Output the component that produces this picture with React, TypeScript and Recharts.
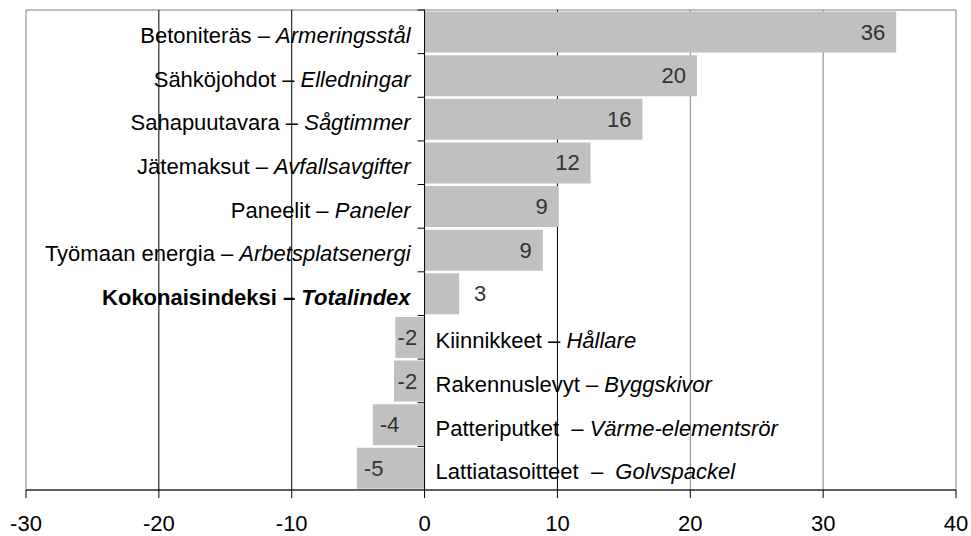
import { BarChart, Bar, XAxis, YAxis, ReferenceLine, ReferenceArea, LabelList } from 'recharts';

const finnishNames = [
  'Betoniteräs – ',
  'Sähköjohdot – ',
  'Sahapuutavara – ',
  'Jätemaksut – ',
  'Paneelit – ',
  'Työmaan energia – ',
  'Kokonaisindeksi – ',
  'Kiinnikkeet – ',
  'Rakennuslevyt – ',
  'Patteriputket  – ',
  'Lattiatasoitteet  –  ',
];

const swedishNames = [
  'Armeringsstål',
  'Elledningar',
  'Sågtimmer',
  'Avfallsavgifter',
  'Paneler',
  'Arbetsplatsenergi',
  'Totalindex',
  'Hållare',
  'Byggskivor',
  'Värme-elementsrör',
  'Golvspackel',
];

const changes = [35.5, 20.5, 16.4, 12.5, 10.1, 8.9, 2.6, -2.2, -2.3, -3.9, -5.1];
const changeLabels = ['36', '20', '16', '12', '9', '9', '3', '-2', '-2', '-4', '-5'];

const xTicks = [-30, -20, -10, 0, 10, 20, 30, 40];
const gridLines = [-20, -10, 10, 20, 30];
const totalRow = 6;

const data = finnishNames.map((fi, i) => ({
  name: fi + swedishNames[i],
  value: changes[i],
  label: changeLabels[i],
}));

const FONT = '"Liberation Sans", Arial, sans-serif';
const GAP = 1.5;

function zeroOf(x: number, width: number, value: number) {
  return value >= 0 ? Math.min(x, x + width) : Math.max(x, x + width);
}

function NameLabel(props: any) {
  const { x, y, width, height, index } = props;
  const value = changes[index];
  const zero = zeroOf(x, width, value);
  const cy = y + height / 2;
  const bold = index === totalRow;
  const positive = value >= 0;
  return (
    <g>
      <line x1={zero - 7} x2={zero} y1={y - GAP} y2={y - GAP} stroke="#000" />
      <text
        x={positive ? zero - 14 : zero + 11}
        y={cy + 11}
        textAnchor={positive ? 'end' : 'start'}
        fontSize={22}
        fontFamily={FONT}
        fontWeight={bold ? 'bold' : 'normal'}
        fill="#000"
        style={{ whiteSpace: 'pre' }}
      >
        <tspan>{finnishNames[index]}</tspan>
        <tspan fontStyle="italic">{swedishNames[index]}</tspan>
      </text>
    </g>
  );
}

function ValueLabel(props: any) {
  const { x, y, width, height, index } = props;
  const value = changes[index];
  const left = Math.min(x, x + width);
  const right = Math.max(x, x + width);
  const cy = y + height / 2 + 7.5;
  let tx = right - 11;
  let anchor: 'start' | 'end' = 'end';
  if (value < 0) {
    // small negative bars keep the label tight to the bar end
    tx = left + Math.max(1, Math.min(7, right - left - 27));
    anchor = 'start';
  } else if (value < 5) {
    tx = right + 15;
    anchor = 'start';
  }
  return (
    <text x={tx} y={cy} textAnchor={anchor} fontSize={22} fontFamily={FONT} fill="#333">
      {changeLabels[index]}
    </text>
  );
}

export default function App() {
  return (
    <div style={{ position: 'absolute', left: 0, top: 0 }}>
      <BarChart
        width={971}
        height={536}
        data={data}
        layout="vertical"
        barCategoryGap={GAP}
        margin={{ top: 10, right: 15, bottom: 0, left: 26 }}
        style={{ fontFamily: FONT }}
      >
        <ReferenceArea x1={-30} x2={40} fill="none" stroke="#808080" strokeWidth={1} zIndex={-100} />
        {gridLines.map((v) => (
          <ReferenceLine
            key={v}
            x={v}
            stroke={v > 10 ? '#808080' : '#000'}
            strokeWidth={1}
            zIndex={-100}
          />
        ))}
        <XAxis
          type="number"
          domain={[-30, 40]}
          ticks={xTicks}
          stroke="#000"
          tickSize={8}
          tickMargin={17}
          height={46}
          tick={{ fill: '#000', fontSize: 22, fontFamily: FONT }}
        />
        <YAxis type="category" dataKey="name" hide />
        <Bar dataKey="value" fill="#C0C0C0" isAnimationActive={false}>
          <LabelList dataKey="name" content={NameLabel} />
          <LabelList dataKey="label" content={ValueLabel} />
        </Bar>
        <ReferenceLine x={0} stroke="#000" strokeWidth={1} />
      </BarChart>
    </div>
  );
}
